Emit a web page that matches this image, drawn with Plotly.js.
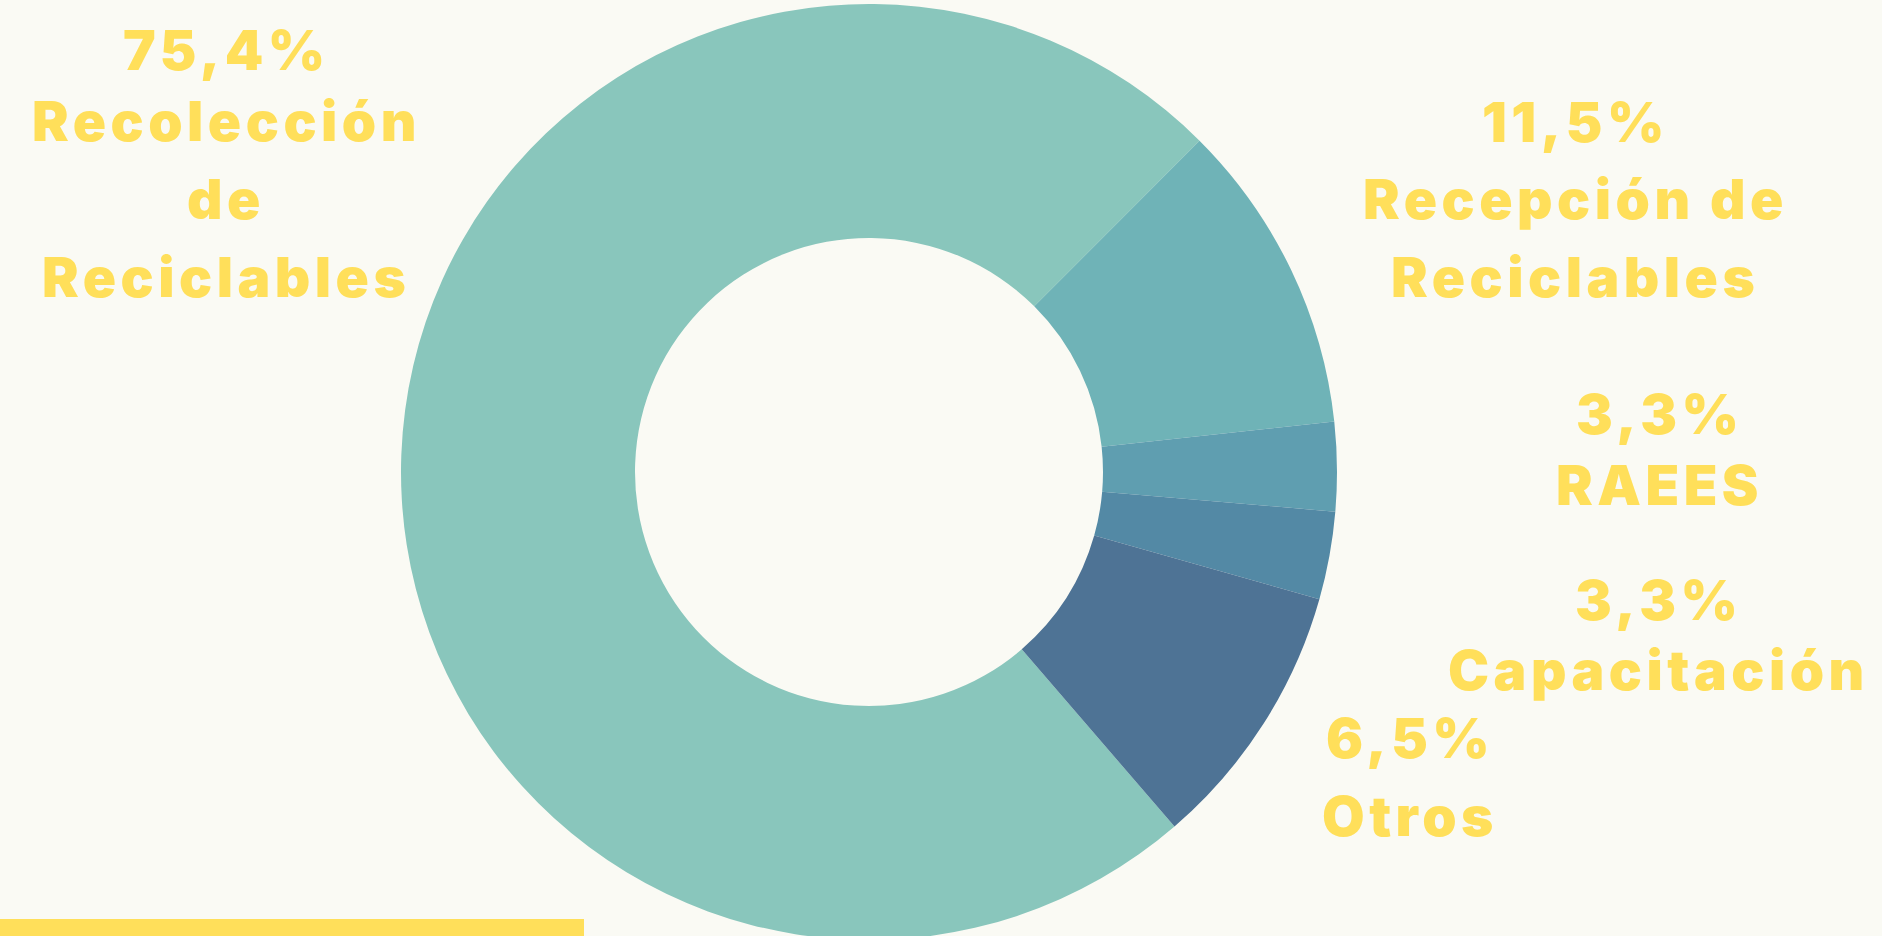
<!DOCTYPE html>
<html><head><meta charset="utf-8">
<script src="https://cdn.plot.ly/plotly-3.0.1.min.js"></script>
<style>
html,body{margin:0;padding:0;background:#fafaf4;overflow:hidden;width:1882px;height:936px}
#chart{width:1882px;height:944px}
.annotation-text{letter-spacing:4.5px}
</style></head><body><div id="chart"></div>
<script>
// ---- data ----
const categories = ["Recolección de Reciclables", "Recepción de Reciclables", "RAEES", "Capacitación", "Otros"];
const labelLines = [["Recolección", "de", "Reciclables"], ["Recepción de", "Reciclables"], ["RAEES"], ["Capacitación"], ["Otros"]];
const sliceShares = [73.8, 10.8, 3.07, 3.03, 9.3];      // slice sizes as drawn
const percentLabels = [75.4, 11.5, 3.3, 3.3, 6.5];      // percentages printed on the chart

// ---- styles / layout ----
const sliceColors = ["#89c6bc", "#6fb3b7", "#5f9eb0", "#5389a5", "#4e7395"];
const W = 1882, H = 944;
const labelX = [224, 1573, 1657, 1656, 1408];
const labelBaselines = [[70, 141, 219, 297], [142, 219, 297], [434, 505], [620, 690], [758, 836]];
const fontSize = 55, letterSpacing = 4.5, centerShift = 0.3635;
const yellow = "#ffdf5a";

const fmt = v => v.toFixed(1).replace(".", ",") + "%";

const trace = {
  type: "pie",
  labels: categories,
  values: sliceShares,
  hole: 0.5,
  sort: false,
  direction: "clockwise",
  rotation: 139.25,
  textinfo: "none",
  hoverinfo: "label+percent",
  marker: {colors: sliceColors, line: {width: 0}},
  domain: {x: [(869 - 468) / W, (869 + 468) / W], y: [1 - (472 + 468) / H, 1 - (472 - 468) / H]},
  showlegend: false
};

const annotations = [];
categories.forEach((c, i) => {
  const lines = [fmt(percentLabels[i])].concat(labelLines[i]);
  lines.forEach((t, j) => {
    const base = labelBaselines[i][j];
    annotations.push({
      xref: "paper", yref: "paper",
      x: (labelX[i] + letterSpacing / 2) / W,
      y: 1 - (base - centerShift * fontSize) / H,
      xanchor: "center", yanchor: "middle",
      text: t, showarrow: false,
      font: {family: "Inter, 'Open Sans', sans-serif", size: fontSize, color: yellow, weight: 900}
    });
  });
});

const layout = {
  width: W, height: H,
  margin: {l: 0, r: 0, t: 0, b: 0, pad: 0},
  paper_bgcolor: "#fafaf4",
  plot_bgcolor: "#fafaf4",
  showlegend: false,
  annotations: annotations,
  shapes: [{
    type: "rect", xref: "paper", yref: "paper",
    x0: 0, x1: 584 / W, y0: 1 - 936 / H, y1: 1 - 919 / H,
    fillcolor: yellow, line: {width: 0}, layer: "below"
  }]
};

Plotly.newPlot("chart", [trace], layout, {displayModeBar: false, staticPlot: true});
</script></body></html>
